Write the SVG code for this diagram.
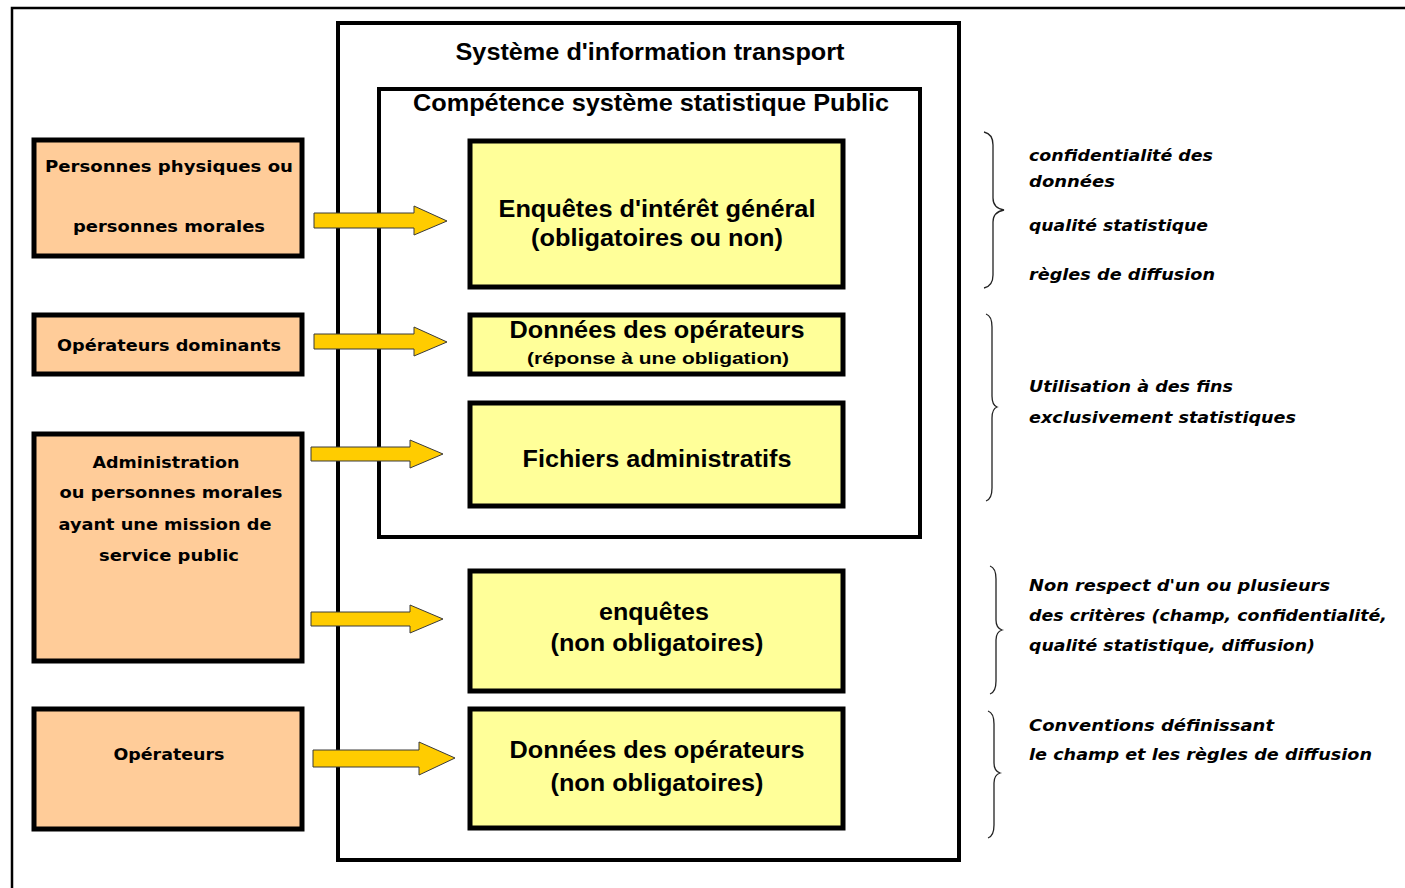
<svg xmlns="http://www.w3.org/2000/svg" width="1405" height="888" viewBox="0 0 1405 888">
<style>
.org{fill:#FFCC99;stroke:#000;stroke-width:5}
.yel{fill:#FFFF99;stroke:#000;stroke-width:5}
.frame{fill:none;stroke:#000}
.arr{fill:#FFCC00;stroke:#3a3a3a;stroke-width:1}
.brace{fill:none;stroke:#222;stroke-width:1.3}
text{font-family:"Liberation Sans",Arial,sans-serif;font-weight:bold;fill:#000}
.t22{font-size:23px;text-anchor:middle}
.t16{font-size:17px;text-anchor:middle}
.lt{font-family:"DejaVu Sans",Verdana,sans-serif;font-size:15px;text-anchor:middle}
.rt{font-family:"DejaVu Sans",Verdana,sans-serif;font-size:15px;font-style:italic}
</style>
<rect width="1405" height="888" fill="#fff"/>
<g id="outer-frame"><rect class="frame" x="12" y="8" width="1420" height="900" stroke-width="2.5"/></g>
<g id="systeme"><rect class="frame" x="338" y="23" width="621" height="837" stroke-width="4"/>
<text class="t22" x="650" y="60" textLength="389" lengthAdjust="spacingAndGlyphs">Système d'information transport</text></g>
<g id="competence"><rect class="frame" x="379" y="89" width="541" height="448" stroke-width="4"/>
<text class="t22" x="651" y="111" textLength="476" lengthAdjust="spacingAndGlyphs">Compétence système statistique Public</text></g>

<g id="src1"><rect class="org" x="34" y="140" width="268" height="116"/>
<text class="lt" x="169" y="172" textLength="248" lengthAdjust="spacingAndGlyphs">Personnes physiques ou</text>
<text class="lt" x="169" y="232" textLength="192" lengthAdjust="spacingAndGlyphs">personnes morales</text></g>
<g id="src2"><rect class="org" x="34" y="315" width="268" height="59"/>
<text class="lt" x="169" y="351" textLength="224" lengthAdjust="spacingAndGlyphs">Opérateurs dominants</text></g>
<g id="src3"><rect class="org" x="34" y="434" width="268" height="227"/>
<text class="lt" x="166" y="468" textLength="147" lengthAdjust="spacingAndGlyphs">Administration</text>
<text class="lt" x="171" y="498" textLength="223" lengthAdjust="spacingAndGlyphs">ou personnes morales</text>
<text class="lt" x="165" y="530" textLength="213" lengthAdjust="spacingAndGlyphs">ayant une mission de</text>
<text class="lt" x="169" y="561" textLength="140" lengthAdjust="spacingAndGlyphs">service public</text></g>
<g id="src4"><rect class="org" x="34" y="709" width="268" height="120"/>
<text class="lt" x="169" y="760" textLength="111" lengthAdjust="spacingAndGlyphs">Opérateurs</text></g>

<g id="d1"><rect class="yel" x="470" y="141" width="373" height="146"/>
<text class="t22" x="657" y="217" textLength="317" lengthAdjust="spacingAndGlyphs">Enquêtes d'intérêt général</text>
<text class="t22" x="657" y="246" textLength="252" lengthAdjust="spacingAndGlyphs">(obligatoires ou non)</text></g>
<g id="d2"><rect class="yel" x="470" y="315" width="373" height="59"/>
<text class="t22" x="657" y="338" textLength="295" lengthAdjust="spacingAndGlyphs">Données des opérateurs</text>
<text class="t16" x="658" y="364" textLength="262" lengthAdjust="spacingAndGlyphs">(réponse à une obligation)</text></g>
<g id="d3"><rect class="yel" x="470" y="403" width="373" height="103"/>
<text class="t22" x="657" y="467" textLength="269" lengthAdjust="spacingAndGlyphs">Fichiers administratifs</text></g>
<g id="d4"><rect class="yel" x="470" y="571" width="373" height="120"/>
<text class="t22" x="654" y="620" textLength="110" lengthAdjust="spacingAndGlyphs">enquêtes</text>
<text class="t22" x="657" y="651" textLength="213" lengthAdjust="spacingAndGlyphs">(non obligatoires)</text></g>
<g id="d5"><rect class="yel" x="470" y="709" width="373" height="119"/>
<text class="t22" x="657" y="758" textLength="295" lengthAdjust="spacingAndGlyphs">Données des opérateurs</text>
<text class="t22" x="657" y="791" textLength="213" lengthAdjust="spacingAndGlyphs">(non obligatoires)</text></g>

<g id="connectors">
<polygon class="arr" points="314,213 414,213 414,206 447,221 414,235 414,228 314,228"/>
<polygon class="arr" points="314,334 414,334 414,327 447,342 414,356 414,349 314,349"/>
<polygon class="arr" points="311,447 410,447 410,440 443,454 410,468 410,461 311,461"/>
<polygon class="arr" points="311,612 410,612 410,605 443,619 410,633 410,626 311,626"/>
<polygon class="arr" points="313,750 419,750 419,742 455,758 419,775 419,767 313,767"/>
</g>

<g id="braces">
<path class="brace" d="M984,132 Q993,134 993,145 L993,198 Q993,208 1004,210 Q993,212 993,222 L993,275 Q993,286 984,288"/>
<path class="brace" d="M986,314 Q992,316 992,327 L992,396 Q992,405 997,407 Q992,409 992,418 L992,488 Q992,499 986,501"/>
<path class="brace" d="M990,566 Q996,568 996,579 L996,620 Q996,628 1002,630 Q996,632 996,640 L996,681 Q996,692 990,694"/>
<path class="brace" d="M988,711 Q994,713 994,724 L994,763 Q994,771 1000,773 Q994,775 994,783 L994,825 Q994,836 988,838"/>
</g>

<g id="notes">
<text class="rt" x="1029" y="161" textLength="184" lengthAdjust="spacingAndGlyphs">confidentialité des</text>
<text class="rt" x="1029" y="187" textLength="86" lengthAdjust="spacingAndGlyphs">données</text>
<text class="rt" x="1029" y="231" textLength="179" lengthAdjust="spacingAndGlyphs">qualité statistique</text>
<text class="rt" x="1029" y="280" textLength="186" lengthAdjust="spacingAndGlyphs">règles de diffusion</text>
<text class="rt" x="1029" y="392" textLength="204" lengthAdjust="spacingAndGlyphs">Utilisation à des fins</text>
<text class="rt" x="1029" y="423" textLength="267" lengthAdjust="spacingAndGlyphs">exclusivement statistiques</text>
<text class="rt" x="1029" y="591" textLength="301" lengthAdjust="spacingAndGlyphs">Non respect d'un ou plusieurs</text>
<text class="rt" x="1029" y="621" textLength="358" lengthAdjust="spacingAndGlyphs">des critères (champ, confidentialité,</text>
<text class="rt" x="1029" y="651" textLength="286" lengthAdjust="spacingAndGlyphs">qualité statistique, diffusion)</text>
<text class="rt" x="1029" y="731" textLength="245" lengthAdjust="spacingAndGlyphs">Conventions définissant</text>
<text class="rt" x="1029" y="760" textLength="343" lengthAdjust="spacingAndGlyphs">le champ et les règles de diffusion</text>
</g>
</svg>
